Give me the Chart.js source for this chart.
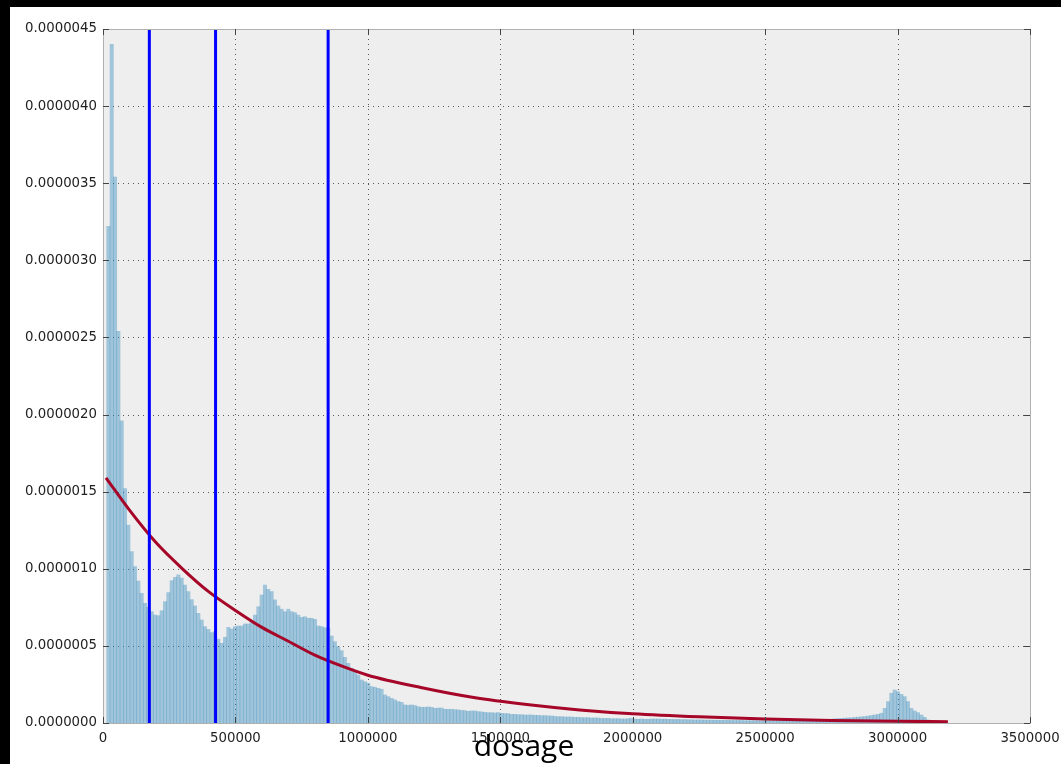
<!DOCTYPE html>
<html>
<head>
<meta charset="utf-8">
<script src="https://cdn.jsdelivr.net/npm/chart.js"></script>
<style>
html,body{margin:0;padding:0;background:#ffffff;width:1061px;height:764px;overflow:hidden;position:relative}
#c{position:absolute;left:0;top:0}
#bandLeft{position:absolute;left:0;top:0;width:10px;height:764px;background:#000}
#bandTop{position:absolute;left:0;top:0;width:1061px;height:7px;background:#000}
#xTitle{position:absolute;left:424px;top:730px;width:200px;text-align:center;font-family:'Open Sans',sans-serif;font-size:30px;line-height:30px;color:#000}
</style>
</head>
<body>
<canvas id="c" width="1061" height="764"></canvas>
<div id="bandLeft"></div>
<div id="bandTop"></div>
<div id="xTitle">dosage</div>
<script>
// ---- data (density values in units of 1e-6) ----
const binStart = 14000;      // left edge of first histogram bin (dosage)
const binWidth = 12580;      // histogram bin width (dosage)
const densityValues = [
  3.22, 4.40, 3.54, 2.54, 1.96, 1.52,
  1.284, 1.111, 1.014, 0.921, 0.841, 0.776, 0.75, 0.722, 0.70, 0.696,
  0.728, 0.787, 0.846, 0.923, 0.945, 0.96, 0.94, 0.895, 0.852, 0.80,
  0.759, 0.711, 0.668, 0.625, 0.607, 0.586, 0.592, 0.543, 0.517, 0.556,
  0.62, 0.61, 0.625, 0.629, 0.629, 0.642, 0.642, 0.657, 0.70, 0.754,
  0.83, 0.895, 0.867, 0.852, 0.798, 0.759, 0.738, 0.722, 0.738, 0.722,
  0.716, 0.70, 0.685, 0.689, 0.679, 0.679, 0.672, 0.629, 0.625, 0.618, 0.614,
  0.564, 0.527, 0.495, 0.469, 0.426, 0.387, 0.355, 0.333, 0.311, 0.279,
  0.268, 0.258, 0.236, 0.232, 0.225, 0.219, 0.182, 0.171, 0.16, 0.15,
  0.139, 0.134, 0.117, 0.115, 0.117, 0.113, 0.106, 0.102, 0.102, 0.104,
  0.102, 0.095, 0.097, 0.097, 0.089, 0.089, 0.089, 0.087, 0.085, 0.082,
  0.080, 0.076, 0.078, 0.078, 0.074, 0.072, 0.069, 0.067, 0.067, 0.065,
  0.067, 0.063, 0.061, 0.061, 0.056, 0.056, 0.054, 0.054, 0.052, 0.052,
  0.052, 0.050, 0.050, 0.048, 0.048, 0.046, 0.046, 0.043, 0.041, 0.041,
  0.039, 0.039, 0.039, 0.037, 0.037, 0.035, 0.035, 0.035, 0.033, 0.033,
  0.033, 0.030, 0.030, 0.030, 0.028, 0.028, 0.028, 0.026, 0.026, 0.028,
  0.030, 0.026, 0.024, 0.026, 0.024, 0.024, 0.026, 0.026, 0.026,
  0.025, 0.025, 0.024, 0.024, 0.023, 0.023, 0.022, 0.022, 0.021, 0.021,
  0.020, 0.020, 0.020, 0.019, 0.019, 0.019, 0.018, 0.018, 0.018, 0.017,
  0.017, 0.017, 0.016, 0.016, 0.016, 0.015, 0.015, 0.015, 0.015, 0.014,
  0.014, 0.014, 0.014, 0.014, 0.014, 0.015, 0.015, 0.015, 0.016, 0.016,
  0.016, 0.017, 0.017, 0.017, 0.018, 0.018, 0.020, 0.021, 0.022, 0.023,
  0.024, 0.025, 0.027, 0.028, 0.030, 0.031, 0.033, 0.034, 0.036, 0.038, 0.040, 0.042,
  0.045, 0.049, 0.052, 0.056, 0.063, 0.095, 0.139, 0.193, 0.214, 0.203,
  0.186, 0.171, 0.139, 0.095, 0.078, 0.067, 0.052, 0.037, 0.020, 0.005
];
// fitted curve, read at these dosages
const curveX = [11300, 100000, 200000, 300000, 400000, 500000, 600000, 700000, 800000, 900000,
  1000000, 1200000, 1400000, 1600000, 1800000, 2000000, 2250000, 2500000, 2750000, 3000000, 3190000];
const curveY = [1.59, 1.38, 1.17, 1.00, 0.85, 0.73, 0.62, 0.53, 0.44, 0.37,
  0.31, 0.23, 0.165, 0.12, 0.085, 0.06, 0.04, 0.026, 0.017, 0.011, 0.008];
// vertical reference lines (dosage)
const markerX = [175000, 425000, 850000];
// axis ticks
const xTickLabels = ['0', '500000', '1000000', '1500000', '2000000', '2500000', '3000000', '3500000'];
const yTickLabels = ['0.0000000', '0.0000005', '0.0000010', '0.0000015', '0.0000020',
  '0.0000025', '0.0000030', '0.0000035', '0.0000040', '0.0000045'];

// ---- chart ----
const yMax = 4.5, yStep = 0.5, xMax = 3500000, xStep = 500000;

const framePlugin = {
  id: 'frame',
  beforeDatasetsDraw(chart) {
    const {ctx, chartArea: a, scales: {x, y}} = chart;
    ctx.save();
    ctx.fillStyle = '#eeeeee';
    ctx.fillRect(a.left, a.top, a.right - a.left, a.bottom - a.top);
    ctx.strokeStyle = 'rgba(60,60,60,0.85)';
    ctx.lineWidth = 1;
    ctx.setLineDash([1, 4]);
    x.ticks.forEach(t => {
      const px = Math.round(x.getPixelForValue(t.value)) + 0.5;
      ctx.beginPath(); ctx.moveTo(px, a.top); ctx.lineTo(px, a.bottom); ctx.stroke();
    });
    y.ticks.forEach(t => {
      const py = Math.round(y.getPixelForValue(t.value)) + 0.5;
      ctx.beginPath(); ctx.moveTo(a.left, py); ctx.lineTo(a.right, py); ctx.stroke();
    });
    ctx.restore();
  },
  afterDatasetsDraw(chart) {
    const {ctx, chartArea: a, scales: {x, y}} = chart;
    ctx.save();
    ctx.setLineDash([]);
    ctx.strokeStyle = '#b0b0b0';
    ctx.lineWidth = 1;
    ctx.strokeRect(Math.round(a.left) + 0.5, Math.round(a.top) + 0.5,
      Math.round(a.right - a.left), Math.round(a.bottom - a.top));
    ctx.strokeStyle = '#444444';
    const L = 6;
    x.ticks.forEach(t => {
      const px = Math.round(x.getPixelForValue(t.value)) + 0.5;
      ctx.beginPath(); ctx.moveTo(px, a.bottom); ctx.lineTo(px, a.bottom - L); ctx.stroke();
      ctx.beginPath(); ctx.moveTo(px, a.top); ctx.lineTo(px, a.top + L); ctx.stroke();
    });
    y.ticks.forEach(t => {
      const py = Math.round(y.getPixelForValue(t.value)) + 0.5;
      ctx.beginPath(); ctx.moveTo(a.left, py); ctx.lineTo(a.left + L, py); ctx.stroke();
      ctx.beginPath(); ctx.moveTo(a.right, py); ctx.lineTo(a.right - L, py); ctx.stroke();
    });
    ctx.restore();
  }
};

const markerSets = markerX.map(mx => ({
  type: 'line',
  data: [{x: mx, y: 0}, {x: mx, y: yMax}],
  borderColor: '#0000ff',
  borderWidth: 3,
  pointRadius: 0,
  order: 1
}));

new Chart(document.getElementById('c'), {
  type: 'bar',
  data: {
    datasets: [
      ...markerSets,
      {
        type: 'line',
        data: curveX.map((cx, i) => ({x: cx, y: curveY[i]})),
        borderColor: '#a60628',
        borderWidth: 3,
        pointRadius: 0,
        cubicInterpolationMode: 'monotone',
        order: 2
      },
      {
        type: 'bar',
        data: densityValues.map((v, i) => ({x: binStart + binWidth * (i + 0.5), y: v})),
        backgroundColor: 'rgba(52,138,189,0.42)',
        borderWidth: 0,
        barPercentage: 1,
        categoryPercentage: 1,
        order: 3
      }
    ]
  },
  options: {
    responsive: false,
    animation: false,
    devicePixelRatio: 1,
    layout: {padding: {top: 29, right: 31, left: 0, bottom: 0}},
    plugins: {legend: {display: false}, tooltip: {enabled: false}},
    scales: {
      x: {
        type: 'linear', min: 0, max: xMax, offset: false,
        grid: {display: false, drawTicks: false, tickLength: 0}, border: {display: false},
        ticks: {
          stepSize: xStep, autoSkip: false, maxRotation: 0, padding: 8,
          color: '#222222', font: {family: 'DejaVu Sans', size: 13.3},
          callback: (v, i) => xTickLabels[i]
        },
        afterFit(s) { s.height = 41; s.paddingLeft = 0; s.paddingRight = 0; }
      },
      y: {
        type: 'linear', min: 0, max: yMax,
        grid: {display: false, drawTicks: false, tickLength: 0}, border: {display: false},
        ticks: {
          stepSize: yStep, autoSkip: false, padding: 6,
          color: '#222222', font: {family: 'DejaVu Sans', size: 13.3},
          callback: (v, i) => yTickLabels[i]
        },
        afterFit(s) { s.width = 103; s.paddingTop = 0; s.paddingBottom = 0; }
      }
    }
  },
  plugins: [framePlugin]
});
</script>
</body>
</html>
